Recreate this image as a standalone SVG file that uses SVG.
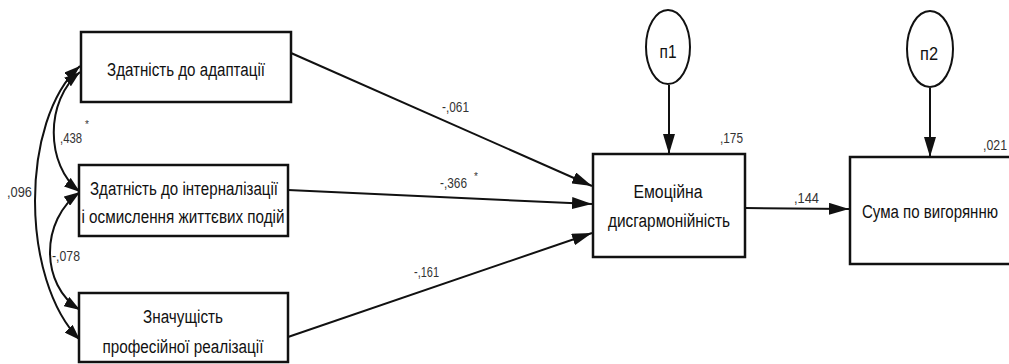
<svg xmlns="http://www.w3.org/2000/svg" width="1009" height="364" viewBox="0 0 1009 364">
<style>
  .box { fill: #fff; stroke: #111; stroke-width: 2.5; }
  .ell { fill: #fff; stroke: #111; stroke-width: 2; }
  .lbl { font-family: "Liberation Sans", Arial, sans-serif; font-size: 18px; fill: #111; text-anchor: middle; }
  .num { font-family: "Liberation Sans", Arial, sans-serif; font-size: 15px; fill: #333; }
  .ast { font-family: "Liberation Sans", Arial, sans-serif; font-size: 10px; fill: #333; }
  .con { fill: none; stroke: #111; stroke-width: 2; }
</style>
<defs>
  <marker id="ah" viewBox="0 0 20 12" refX="20" refY="6" markerWidth="20" markerHeight="12" markerUnits="userSpaceOnUse" orient="auto-start-reverse">
    <path d="M0,0 L20,6 L0,12 z" fill="#111"/>
  </marker>
  <marker id="ahs" viewBox="0 0 16 11" refX="16" refY="5.5" markerWidth="16" markerHeight="11" markerUnits="userSpaceOnUse" orient="auto-start-reverse">
    <path d="M0,0 L16,5.5 L0,11 z" fill="#111"/>
  </marker>
</defs>
<rect width="1009" height="364" fill="#fff"/>

<g id="connectors">
  <path class="con" d="M80,66 C20,120 20,280 80,340" marker-start="url(#ahs)" marker-end="url(#ahs)"/>
  <path class="con" d="M80,72 C45,100 45,165 80,192" marker-start="url(#ahs)" marker-end="url(#ahs)"/>
  <path class="con" d="M80,192 C40,220 40,285 80,310" marker-start="url(#ahs)" marker-end="url(#ahs)"/>
  <line class="con" x1="291" y1="53" x2="592" y2="186" marker-end="url(#ah)"/>
  <line class="con" x1="288" y1="190" x2="592" y2="204" marker-end="url(#ah)"/>
  <line class="con" x1="288" y1="337" x2="592" y2="233" marker-end="url(#ah)"/>
  <line class="con" x1="745" y1="208" x2="849" y2="209" marker-end="url(#ah)"/>
  <line class="con" x1="669" y1="85" x2="669" y2="154" marker-end="url(#ah)"/>
  <line class="con" x1="930" y1="88" x2="930" y2="157" marker-end="url(#ah)"/>
  <text class="num" x="60" y="143" textLength="22" lengthAdjust="spacingAndGlyphs">,438</text>
  <text class="ast" x="85" y="128">*</text>
  <text class="num" x="7" y="197" textLength="25" lengthAdjust="spacingAndGlyphs">,096</text>
  <text class="num" x="52" y="261" textLength="28" lengthAdjust="spacingAndGlyphs">-,078</text>
  <text class="num" x="442" y="112" textLength="27" lengthAdjust="spacingAndGlyphs">-,061</text>
  <text class="num" x="440" y="188" textLength="27" lengthAdjust="spacingAndGlyphs">-,366</text>
  <text class="ast" x="474" y="180">*</text>
  <text class="num" x="414" y="277" textLength="25" lengthAdjust="spacingAndGlyphs">-,161</text>
  <text class="num" x="720" y="143" textLength="23" lengthAdjust="spacingAndGlyphs">,175</text>
  <text class="num" x="794" y="203" textLength="25" lengthAdjust="spacingAndGlyphs">,144</text>
  <text class="num" x="983" y="150" textLength="24" lengthAdjust="spacingAndGlyphs">,021</text>
</g>

<g id="node-adapt">
  <rect class="box" x="81" y="32" width="210" height="70"/>
  <text class="lbl" x="186" y="76" textLength="158" lengthAdjust="spacingAndGlyphs">Здатність до адаптації</text>
</g>
<g id="node-intern">
  <rect class="box" x="79" y="165" width="209" height="71"/>
  <text class="lbl" x="184" y="195" textLength="188" lengthAdjust="spacingAndGlyphs">Здатність до інтерналізації</text>
  <text class="lbl" x="183" y="223" textLength="203" lengthAdjust="spacingAndGlyphs">і осмислення життєвих подій</text>
</g>
<g id="node-prof">
  <rect class="box" x="79" y="293" width="209" height="69"/>
  <text class="lbl" x="183" y="323" textLength="80" lengthAdjust="spacingAndGlyphs">Значущість</text>
  <text class="lbl" x="183" y="353" textLength="161" lengthAdjust="spacingAndGlyphs">професійної реалізації</text>
</g>
<g id="node-emo">
  <rect class="box" x="593" y="154" width="152" height="103"/>
  <text class="lbl" x="668" y="198" textLength="69" lengthAdjust="spacingAndGlyphs">Емоційна</text>
  <text class="lbl" x="669" y="227" textLength="122" lengthAdjust="spacingAndGlyphs">дисгармонійність</text>
</g>
<g id="node-burn">
  <rect class="box" x="850" y="157" width="170" height="107"/>
  <text class="lbl" x="930" y="218" textLength="136" lengthAdjust="spacingAndGlyphs">Сума по вигорянню</text>
</g>
<g id="node-n1">
  <ellipse class="ell" cx="668" cy="47" rx="22" ry="37"/>
  <text class="lbl" x="668" y="58" textLength="17" lengthAdjust="spacingAndGlyphs">п1</text>
</g>
<g id="node-n2">
  <ellipse class="ell" cx="930" cy="49" rx="23" ry="38"/>
  <text class="lbl" x="929" y="60" textLength="18" lengthAdjust="spacingAndGlyphs">п2</text>
</g>
</svg>
